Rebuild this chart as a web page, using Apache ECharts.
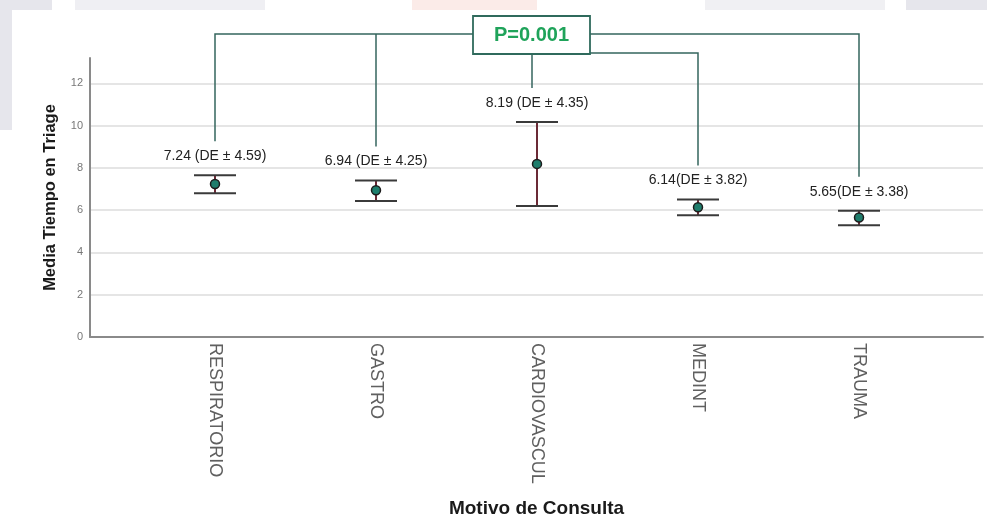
<!DOCTYPE html>
<html>
<head>
<meta charset="utf-8">
<script src="https://cdn.jsdelivr.net/npm/echarts@6/dist/echarts.min.js"></script>
<style>
  html, body { margin: 0; padding: 0; background: #ffffff; }
  #chart { width: 987px; height: 518px; }
</style>
</head>
<body>
<div id="chart"></div>
<script>
// Motivo de consulta and mean triage time with 95% CI
const categories = ['RESPIRATORIO', 'GASTRO', 'CARDIOVASCUL', 'MEDINT', 'TRAUMA'];
const means = [7.24, 6.94, 8.19, 6.14, 5.65];
const sds = [4.59, 4.25, 4.35, 3.82, 3.38];
const ciLower = [6.80, 6.44, 6.20, 5.76, 5.29];
const ciUpper = [7.65, 7.41, 10.17, 6.50, 5.97];
const labelSep = [' ', ' ', ' ', '', ''];
const yTicks = [0, 2, 4, 6, 8, 10, 12];
const pValueText = 'P=0.001';

const FONT = '"Liberation Sans", Arial, sans-serif';
const chart = echarts.init(document.getElementById('chart'), null, { renderer: 'canvas' });

const seriesData = categories.map((c, i) => [i, means[i], ciLower[i], ciUpper[i], sds[i]]);

function renderErrorBar(params, api) {
  const i = api.value(0);
  const mean = api.value(1);
  const lo = api.value(2);
  const hi = api.value(3);
  const sd = api.value(4);
  const pm = api.coord([i, mean]);
  const pl = api.coord([i, lo]);
  const ph = api.coord([i, hi]);
  const half = 21;
  const x = pm[0];
  return {
    type: 'group',
    children: [
      { type: 'line', shape: { x1: x, y1: pl[1], x2: x, y2: ph[1] },
        style: { stroke: '#6b2a36', lineWidth: 2 } },
      { type: 'line', shape: { x1: x - half, y1: ph[1], x2: x + half, y2: ph[1] },
        style: { stroke: '#3a3a3a', lineWidth: 2 } },
      { type: 'line', shape: { x1: x - half, y1: pl[1], x2: x + half, y2: pl[1] },
        style: { stroke: '#3a3a3a', lineWidth: 2 } },
      { type: 'circle', shape: { cx: x, cy: pm[1], r: 4.5 },
        style: { fill: '#1f7d6c', stroke: '#1c1c1c', lineWidth: 1.5 } },
      { type: 'text', x: x, y: ph[1] - 19,
        style: {
          text: mean.toFixed(2) + labelSep[i] + '(DE \u00b1 ' + sd.toFixed(2) + ')',
          fill: '#222', font: '14px ' + FONT, align: 'center', verticalAlign: 'middle'
        } }
    ]
  };
}

const yMax = 13.2;
const splitColors = yTicks.map(() => '#dcdcdc').concat(['rgba(0,0,0,0)']);

chart.setOption({
  animation: false,
  backgroundColor: '#ffffff',
  grid: [
    { left: 90, right: 4, top: 58, bottom: 181, outerBoundsMode: 'none', containLabel: false },
    { left: 134.5, width: 805, top: 58, bottom: 181, outerBoundsMode: 'none', containLabel: false }
  ],
  xAxis: [
    {
      type: 'value', gridIndex: 0, min: 0, max: 1,
      axisLine: { show: true, lineStyle: { color: '#8a8a8a', width: 2 } },
      axisTick: { show: false }, axisLabel: { show: false }, splitLine: { show: false },
      name: 'Motivo de Consulta', nameLocation: 'middle', nameGap: 162,
      nameTextStyle: { fontFamily: FONT, fontWeight: 'bold', fontSize: 19, color: '#1a1a1a' }
    },
    {
      type: 'category', gridIndex: 1, data: categories, boundaryGap: true,
      axisLine: { show: false }, axisTick: { show: false }, splitLine: { show: false },
      axisLabel: { rotate: -90, margin: 6, interval: 0, fontFamily: FONT, fontSize: 18, color: '#606060' }
    }
  ],
  yAxis: [
    {
      type: 'value', gridIndex: 0, min: 0, max: yMax, interval: 2,
      axisLine: { show: true, lineStyle: { color: '#8a8a8a', width: 2 } },
      axisTick: { show: false },
      axisLabel: { showMaxLabel: false, margin: 7, fontFamily: FONT, fontSize: 11, color: '#777' },
      splitLine: { show: true, lineStyle: { color: splitColors, width: 1.5 } },
      name: 'Media Tiempo en Triage', nameLocation: 'middle', nameGap: 31,
      nameTextStyle: { fontFamily: FONT, fontWeight: 'bold', fontSize: 16.5, color: '#1a1a1a' }
    },
    { type: 'value', gridIndex: 1, min: 0, max: yMax, interval: 2, show: false }
  ],
  series: [
    {
      type: 'custom', xAxisIndex: 1, yAxisIndex: 1,
      renderItem: renderErrorBar, data: seriesData, clip: false,
      encode: { x: 0, y: [1, 2, 3] }
    }
  ]
});

// Comparison brackets joining each group to the p-value box
const px = categories.map((c, i) => chart.convertToPixel({ xAxisIndex: 1, yAxisIndex: 1 }, [i, ciUpper[i]]));
const bottomOf = i => px[i][1] - 34;
const topY = 34;
const midY = 53;
const cardioX = px[2][0];
const boxLeft = cardioX - 64;
const boxW = 117;
const boxTop = 16;
const boxH = 38;
const boxRight = boxLeft + boxW;
const bracketStyle = { stroke: '#35655e', lineWidth: 1.5, fill: null };

const graphics = [
  // faint page decoration in the margins
  { type: 'rect', shape: { x: 0, y: 0, width: 52, height: 10 }, style: { fill: '#e6e6ec' }, z: -5 },
  { type: 'rect', shape: { x: 0, y: 0, width: 12, height: 130 }, style: { fill: '#e6e6ec' }, z: -5 },
  { type: 'rect', shape: { x: 75, y: 0, width: 190, height: 10 }, style: { fill: '#efeff3' }, z: -5 },
  { type: 'rect', shape: { x: 412, y: 0, width: 125, height: 10 }, style: { fill: '#fbebe8' }, z: -5 },
  { type: 'rect', shape: { x: 705, y: 0, width: 180, height: 10 }, style: { fill: '#f0f0f3' }, z: -5 },
  { type: 'rect', shape: { x: 906, y: 0, width: 81, height: 10 }, style: { fill: '#e6e6ec' }, z: -5 },

  { type: 'polyline', shape: { points: [[px[0][0], bottomOf(0)], [px[0][0], topY], [boxLeft, topY]] }, style: bracketStyle },
  { type: 'line', shape: { x1: px[1][0], y1: topY, x2: px[1][0], y2: bottomOf(1) }, style: bracketStyle },
  { type: 'polyline', shape: { points: [[boxRight, topY], [px[4][0], topY], [px[4][0], bottomOf(4)]] }, style: bracketStyle },
  { type: 'polyline', shape: { points: [[boxRight, midY], [px[3][0], midY], [px[3][0], bottomOf(3)]] }, style: bracketStyle },
  { type: 'line', shape: { x1: cardioX - 5, y1: boxTop + boxH, x2: cardioX - 5, y2: bottomOf(2) }, style: bracketStyle },
  { type: 'rect', shape: { x: boxLeft, y: boxTop, width: boxW, height: boxH },
    style: { fill: '#ffffff', stroke: '#2f6a5c', lineWidth: 1.8 } },
  { type: 'text', x: boxLeft + boxW / 2, y: boxTop + boxH / 2,
    style: { text: pValueText, fill: '#1fa35a', font: 'bold 20px ' + FONT, align: 'center', verticalAlign: 'middle' } }
];

chart.setOption({ graphic: graphics });
</script>
</body>
</html>
